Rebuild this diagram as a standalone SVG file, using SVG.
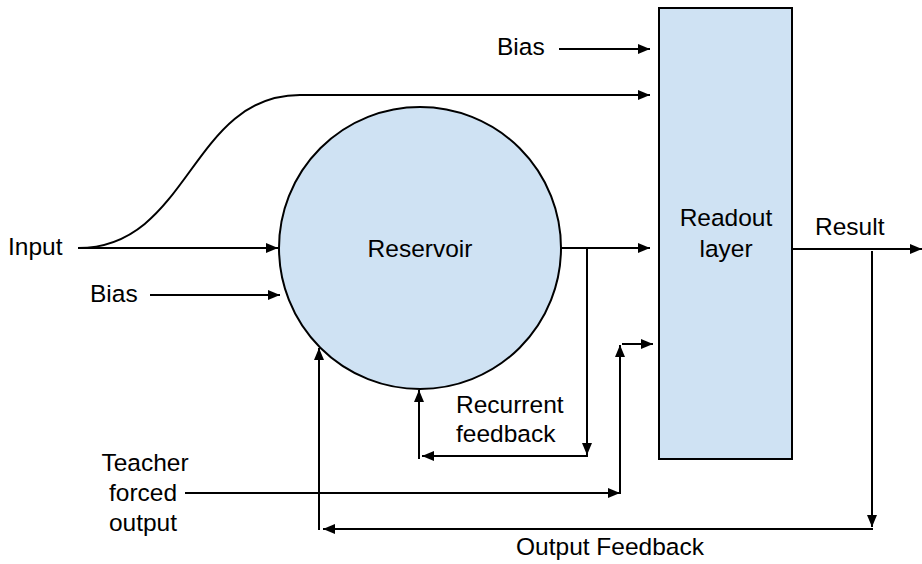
<svg xmlns="http://www.w3.org/2000/svg" width="922" height="564" viewBox="0 0 922 564">
<style>
text{font-family:"Liberation Sans",Arial,sans-serif;font-size:24.5px;fill:#000}
.c{text-anchor:middle}
.ln{fill:none;stroke:#000;stroke-width:2}
.nd{fill:#cfe2f3;stroke:#000;stroke-width:2}
</style>
<defs>
<marker id="ah" markerUnits="userSpaceOnUse" markerWidth="13" markerHeight="11" refX="12" refY="5" orient="auto" overflow="visible">
<path d="M0,0 L12,5 L0,10 z" fill="#000"/>
</marker>
</defs>
<rect width="922" height="564" fill="#fff"/>
<g id="readout">
<rect class="nd" x="659" y="8" width="133" height="451"/>
<text class="c" x="726" y="226">Readout</text>
<text class="c" x="726" y="257">layer</text>
</g>
<g id="reservoir">
<circle class="nd" cx="420" cy="248" r="141"/>
<text class="c" x="420" y="257">Reservoir</text>
</g>
<g id="labels">
<text x="8" y="255">Input</text>
<text x="90" y="302">Bias</text>
<text x="497" y="55">Bias</text>
<text x="815" y="235">Result</text>
<text x="456" y="413">Recurrent</text>
<text x="456" y="442">feedback</text>
<text class="c" x="145" y="471">Teacher</text>
<text class="c" x="143" y="501">forced</text>
<text class="c" x="143" y="531">output</text>
<text class="c" x="610" y="555">Output Feedback</text>
</g>
<g id="connectors">
<path class="ln" d="M78,248 C190,248 190,95 300,95 L650,95" marker-end="url(#ah)"/>
<path class="ln" d="M78,248 L278,248" marker-end="url(#ah)"/>
<path class="ln" d="M150,295 L280,295" marker-end="url(#ah)"/>
<path class="ln" d="M559,49 L650,49" marker-end="url(#ah)"/>
<path class="ln" d="M561,248 L650,248" marker-end="url(#ah)"/>
<path class="ln" d="M587,248 L587,455" marker-end="url(#ah)"/>
<path class="ln" d="M588,456 L422,456" marker-end="url(#ah)"/>
<path class="ln" d="M419,459 L419,390" marker-end="url(#ah)"/>
<path class="ln" d="M185,493 L620,493" marker-end="url(#ah)"/>
<path class="ln" d="M620,494 L620,345" marker-end="url(#ah)"/>
<path class="ln" d="M622,344 L653,344" marker-end="url(#ah)"/>
<path class="ln" d="M792,249 L922,249" marker-end="url(#ah)"/>
<path class="ln" d="M872,251 L872,527" marker-end="url(#ah)"/>
<path class="ln" d="M873,529 L323,529" marker-end="url(#ah)"/>
<path class="ln" d="M319,530 L319,348" marker-end="url(#ah)"/>
</g>
</svg>
